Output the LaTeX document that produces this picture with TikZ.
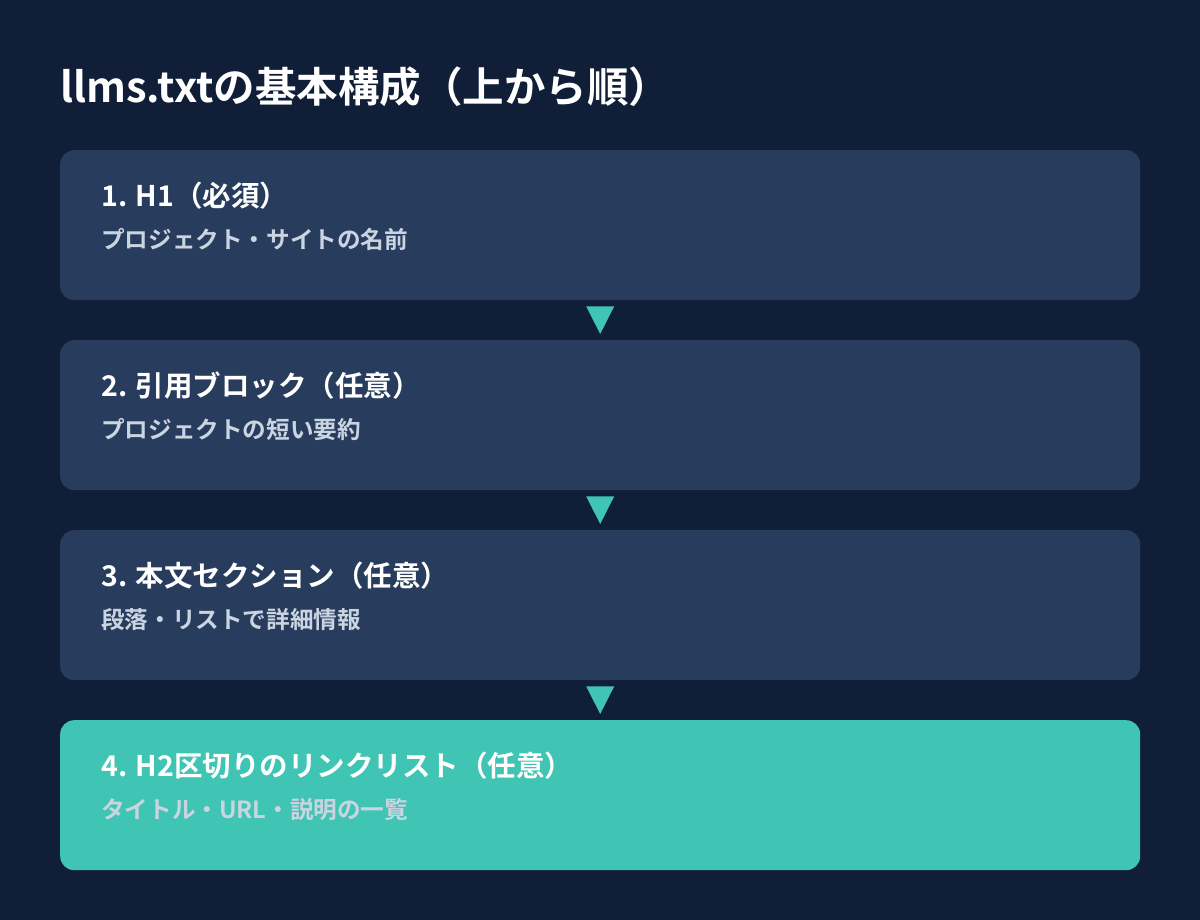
\documentclass[tikz,border=0pt]{standalone}
\usepackage{fontspec}
\setmainfont{Noto Sans CJK JP}[BoldFont={* Bold}]
\usetikzlibrary{calc}
\definecolor{pagebg}{HTML}{111E38}
\definecolor{boxbg}{HTML}{283C5D}
\definecolor{teal}{HTML}{40C4B4}
\definecolor{subgrey}{HTML}{CBD5E1}
\tikzset{
  stepbox/.style={rounded corners=14pt, minimum width=1080pt, minimum height=150pt,
    inner sep=0pt, anchor=north west, fill=boxbg},
  headtxt/.style={anchor=base west, inner sep=0pt, text=white,
    font=\bfseries\fontsize{28.5}{32}\selectfont},
  subtxt/.style={anchor=base west, inner sep=0pt, text=subgrey,
    font=\bfseries\fontsize{23.6}{27}\selectfont},
}
\begin{document}
\begin{tikzpicture}[x=1pt, y=-1pt]
\fill[pagebg] (0,0) rectangle (1200,920);
\useasboundingbox (0,0) rectangle (1200,920);
\node[anchor=base west, inner sep=0pt, text=white,
  font=\bfseries\fontsize{41.5}{46}\selectfont] (title) at (60,103) {llms.txtの基本構成（上から順）};
% the four parts
\node[stepbox] (b1) at (60,150) {};
\node[stepbox] (b2) at (60,340) {};
\node[stepbox] (b3) at (60,530) {};
\node[stepbox, fill=teal] (b4) at (60,720) {};
\node[headtxt] (h1) at (101,206.5) {1. H1（必須）};
\node[subtxt] (s1) at (101,248.5) {プロジェクト・サイトの名前};
\node[headtxt] (h2) at (101,396.5) {2. 引用ブロック（任意）};
\node[subtxt] (s2) at (101,438.5) {プロジェクトの短い要約};
\node[headtxt] (h3) at (101,586.5) {3. 本文セクション（任意）};
\node[subtxt] (s3) at (101,628.5) {段落・リストで詳細情報};
\node[headtxt] (h4) at (101,776.5) {4. H2区切りのリンクリスト（任意）};
\node[subtxt] (s4) at (101,818.5) {タイトル・URL・説明の一覧};
% arrows between the parts
\foreach \a/\b in {b1/b2, b2/b3, b3/b4}
  \fill[teal] ($(\a.south)+(-14,6)$) -- ($(\a.south)+(14,6)$) -- ($(\b.north)+(0,-6)$) -- cycle;
\end{tikzpicture}
\end{document}
